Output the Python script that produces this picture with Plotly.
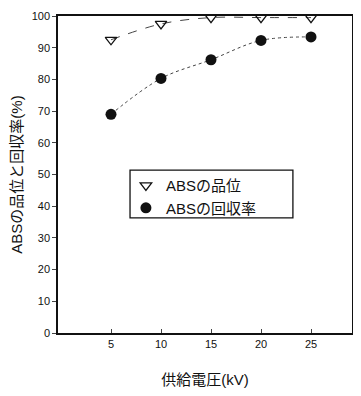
import plotly.graph_objects as go

voltage = [5, 10, 15, 20, 25]
quality = [92.5, 97.5, 99.5, 99.5, 99.5]
recovery = [69.0, 80.3, 86.2, 92.3, 93.4]
x_ticks = [5, 10, 15, 20, 25]
y_ticks = [0, 10, 20, 30, 40, 50, 60, 70, 80, 90, 100]

FONT = "Liberation Sans, Arial, Noto Sans CJK JP"

fig = go.Figure()
# connecting curves (not in legend)
fig.add_trace(go.Scatter(
    x=voltage, y=quality, mode="lines", showlegend=False, hoverinfo="skip",
    line=dict(color="#444", width=1, dash="dash", shape="spline"),
))
fig.add_trace(go.Scatter(
    x=voltage, y=recovery, mode="lines", showlegend=False, hoverinfo="skip",
    line=dict(color="#444", width=1, dash="dot", shape="spline"),
))
# markers
fig.add_trace(go.Scatter(
    x=voltage, y=quality, mode="markers", name="ABSの品位",
    marker=dict(symbol="triangle-down-open", size=10, color="#111", line=dict(width=1.3)),
))
fig.add_trace(go.Scatter(
    x=voltage, y=recovery, mode="markers", name="ABSの回収率",
    marker=dict(symbol="circle", size=11, color="#111"),
))

# legend frame
fig.add_shape(type="rect", xref="paper", yref="paper",
              x0=0.245, x1=0.799, y0=0.363, y1=0.514,
              line=dict(color="#111", width=1.3), fillcolor="white", layer="below")

fig.update_layout(
    width=345, height=380,
    margin=dict(l=50, r=1, t=8, b=55),
    paper_bgcolor="white", plot_bgcolor="white",
    font=dict(family=FONT, color="#111"),
    showlegend=True,
    legend=dict(
        x=0.231, y=0.517, xanchor="left", yanchor="top",
        bgcolor="rgba(0,0,0,0)", borderwidth=0,
        font=dict(size=15, family=FONT), tracegroupgap=0,
        itemwidth=30,
    ),
    xaxis=dict(
        range=[-0.3, 29.1], tickvals=x_ticks, ticks="inside", ticklen=4,
        showline=True, linecolor="#111", linewidth=1.5, mirror=True,
        showgrid=False, zeroline=False, automargin=False,
        tickfont=dict(size=11, family=FONT),
        title=dict(text="供給電圧(kV)", font=dict(size=15, family=FONT), standoff=30),
    ),
    yaxis=dict(
        range=[0, 100], tickvals=y_ticks, ticks="outside", ticklen=4,
        showline=True, linecolor="#111", linewidth=1.5, mirror=True,
        showgrid=False, zeroline=False, automargin=False,
        tickfont=dict(size=11, family=FONT),
        title=dict(text="ABSの品位と回収率(%)", font=dict(size=15, family=FONT), standoff=5),
    ),
)

fig.write_html("out.html")
